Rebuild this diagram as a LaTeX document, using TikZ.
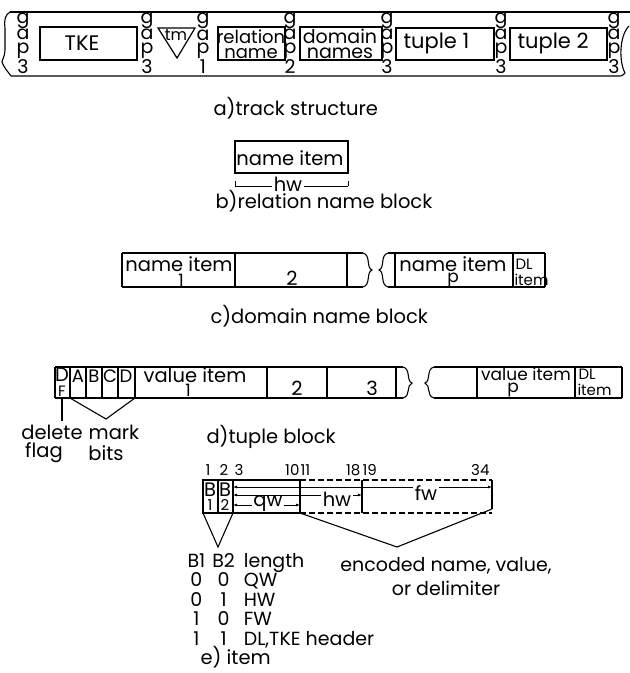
\documentclass[tikz,border=0pt]{standalone}
\usepackage{fontspec}
\setmainfont{Poppins}
\usetikzlibrary{arrows.meta}
\begin{document}
\begin{tikzpicture}[x=1pt,y=-1pt,line width=1.1pt,
  txt/.style={font=\fontsize{19.5}{16}\selectfont,inner sep=0pt},
  captxt/.style={font=\fontsize{19.5}{16}\selectfont,inner sep=0pt,anchor=west},
  sm/.style={font=\fontsize{15}{12}\selectfont,inner sep=0pt},
  gapst/.style={font=\fontsize{19}{13.5}\selectfont,align=center,inner sep=0pt},
  box/.style={draw,line width=1.2pt,inner sep=0pt},
  dim/.style={line width=0.9pt,{Latex[length=4pt,width=3pt]}-{Latex[length=4pt,width=3pt]}},
  dsh/.style={dashed,dash pattern=on 6pt off 3pt}]
\useasboundingbox (0,0) rectangle (630,673);

% ---------- a) track structure ----------
\coordinate (tl) at (10,12);
\coordinate (tr) at (630,12);
\coordinate (bl) at (11,76);
\coordinate (br) at (618,76);
\draw (tl) -- (tr);
\draw (bl) -- (br) .. controls (622,76) .. (625,73);
\draw (tl) .. controls (5,15) and (4,20) .. (5,28) -- (5,50) .. controls (5,56) and (2,60) .. (2,62) .. controls (3,66) and (8,72) .. (bl);
\draw (629,26) .. controls (619,36) and (619,62) .. (625,73);

\node[gapst] (g1) at (23,43) {g\\a\\p\\3};
\node[gapst] (g2) at (147,43) {g\\a\\p\\3};
\node[gapst] (g3) at (203,43) {g\\a\\p\\1};
\node[gapst] (g4) at (290,43) {g\\a\\p\\2};
\node[gapst] (g5) at (387,43) {g\\a\\p\\3};
\node[gapst] (g6) at (501,43) {g\\a\\p\\3};
\node[gapst] (g7) at (614,43) {g\\a\\p\\3};

\node[box,minimum width=97pt,minimum height=33pt] (tke) at (88.5,43.5) {};
\node[txt,font=\fontsize{21}{16}\selectfont] (tket) at (82,43) {TKE};
\draw[line width=1.2pt] (158,28) -- (195,28) -- (177,58) -- cycle;
\node[sm,font=\fontsize{16}{12}\selectfont] (tm) at (176,35) {tm};
\node[box,minimum width=67pt,minimum height=33pt] (rel) at (251.5,43.5) {};
\node[txt,align=center,font=\fontsize{18}{15.5}\selectfont] (relt) at (251,44) {relation\\name};
\node[box,minimum width=82pt,minimum height=33pt] (dom) at (341,43.5) {};
\node[txt,align=center,font=\fontsize{19}{15.5}\selectfont] (domt) at (340,44) {domain\\names};
\node[box,minimum width=98pt,minimum height=32pt] (tu1) at (445,44) {};
\node[txt,anchor=west,font=\fontsize{21}{16}\selectfont] (tu1t) at (403,43) {tuple 1};
\node[box,minimum width=97pt,minimum height=32pt] (tu2) at (558.5,44) {};
\node[txt,anchor=west,font=\fontsize{21}{16}\selectfont] (tu2t) at (517,43) {tuple 2};

\node[captxt] (capa) at (213,108) {a)track structure};

% ---------- b) relation name block ----------
\node[box,minimum width=113pt,minimum height=32pt] (ni) at (291.5,157) {};
\node[txt] (nit) at (290,158) {name item};
\coordinate (hwl) at (235,186);
\coordinate (hwr) at (348,186);
\draw[line width=0.9pt] (hwl) -- (hwr);
\draw[line width=0.9pt] (235,181) -- (hwl);
\draw[line width=0.9pt] (348,181) -- (hwr);
\node[txt,fill=white,inner xsep=2pt] (hwb) at (288,184) {hw};
\node[captxt] (capb) at (215,201) {b)relation name block};

% ---------- c) domain name block ----------
\draw (122,253) -- (363,253);
\draw (122,287) -- (363,287);
\draw (122,253) -- (122,287);
\draw (235,253) -- (235,287);
\draw (347,253) -- (347,287);
\draw (363,253) .. controls (371,255) and (366,268) .. (372,270) .. controls (366,272) and (371,285) .. (363,287);
\draw (388,253) .. controls (380,255) and (385,268) .. (379,270) .. controls (385,272) and (380,285) .. (388,287);
\draw (388,253) -- (545,253);
\draw (388,287) -- (545,287);
\draw (395,253) -- (395,287);
\draw (513,253) -- (513,287);
\draw (545,253) -- (545,287);
\node[txt] (c1) at (179,264) {name item};
\node[sm,font=\fontsize{17}{12}\selectfont] (c1s) at (181,280) {1};
\node[txt] (c2) at (292,278) {2};
\node[txt] (cp) at (453,264) {name item};
\node[sm,font=\fontsize{17}{12}\selectfont] (cps) at (453,280) {p};
\node[sm,anchor=west] (cdl) at (515,264) {DL};
\node[sm,anchor=west] (cdi) at (514,280) {item};
\node[captxt] (capc) at (210,316) {c)domain name block};

% ---------- d) tuple block ----------
\draw (55,367) -- (403,367);
\draw (55,398) -- (403,398);
\foreach \xx in {55,70,86,102,118,135,267,327,396} \draw (\xx,367) -- (\xx,398);
\draw (403,367) .. controls (411,369) and (406,381) .. (412,383) .. controls (406,385) and (411,396) .. (403,398);
\draw (434,367) .. controls (426,369) and (431,381) .. (425,383) .. controls (431,385) and (426,396) .. (434,398);
\draw (434,367) -- (622,367);
\draw (434,398) -- (622,398);
\foreach \xx in {477,575,622} \draw (\xx,367) -- (\xx,398);
\node[txt] (dD) at (62,375) {D};
\node[sm] (dF) at (62,391) {F};
\node[txt,font=\fontsize{18}{16}\selectfont] (dA) at (78,376) {A};
\node[txt,font=\fontsize{18}{16}\selectfont] (dB) at (94,376) {B};
\node[txt,font=\fontsize{18}{16}\selectfont] (dC) at (110,376) {C};
\node[txt,font=\fontsize{18}{16}\selectfont] (dDD) at (126,376) {D};
\node[txt] (dv1) at (195,375) {value item};
\node[sm,font=\fontsize{17}{12}\selectfont] (dv1s) at (188,390) {1};
\node[txt] (d2) at (297,388) {2};
\node[txt] (d3) at (372,388) {3};
\node[txt,font=\fontsize{17}{16}\selectfont] (dvp) at (526,374) {value item};
\node[sm,font=\fontsize{17}{12}\selectfont] (dvps) at (513,390) {p};
\node[sm,anchor=west] (ddl) at (578,374) {DL};
\node[sm,anchor=west] (ddi) at (577,390) {item};
\coordinate (dfb) at (62,398);
\node[txt] (del) at (52,432) {delete};
\node[txt] (flag) at (44,453) {flag};
\draw (dfb) -- (62,421);
\coordinate (mva) at (70,398);
\coordinate (mvb) at (135,398);
\coordinate (mvx) at (106,419);
\draw (mva) -- (mvx) -- (mvb);
\node[txt] (mark) at (114,432) {mark};
\node[txt] (bits) at (106,453) {bits};
\node[captxt] (capd) at (206,437) {d)tuple block};

% ---------- e) item ----------
\node[sm] (n1) at (208,470) {1};
\node[sm] (n2) at (224,470) {2};
\node[sm] (n3) at (239,470) {3};
\node[sm,anchor=east] (n10) at (300,470) {10};
\node[sm,anchor=west] (n11) at (300,470) {11};
\node[sm,anchor=east] (n18) at (361,470) {18};
\node[sm,anchor=west] (n19) at (362,470) {19};
\node[sm,anchor=east] (n34) at (490,470) {34};
\draw (203,480) rectangle (300,513);
\draw (218,480) -- (218,513);
\draw (233,480) -- (233,513);
\draw (362,480) -- (362,513);
\draw (492,480) -- (492,509);
\draw[dsh] (300,480) -- (492,480);
\draw[dsh] (300,513) -- (492,513);
\node[txt] (eb1) at (210,490) {B};
\node[sm] (e11) at (210,505) {1};
\node[txt] (eb2) at (225,490) {B};
\node[sm] (e22) at (225,505) {2};
\coordinate (fwl) at (233,487);
\coordinate (fwr) at (492,487);
\coordinate (hwl2) at (233,495);
\coordinate (hwr2) at (362,495);
\coordinate (qwl) at (233,505);
\coordinate (qwr) at (300,505);
\draw[dim] (fwl) -- (fwr);
\draw[dim] (hwl2) -- (hwr2);
\draw[dim] (qwl) -- (qwr);
\node[txt,fill=white,inner xsep=2pt,inner ysep=1pt] (efw) at (426,493) {fw};
\node[txt,fill=white,inner xsep=2pt,inner ysep=0.5pt] (ehw) at (337,499) {hw};
\node[txt,fill=white,inner xsep=1pt,inner ysep=0pt] (eqw) at (268,504) {qw};
\coordinate (v1a) at (203,513);
\coordinate (v1b) at (233,513);
\coordinate (v1x) at (218,547);
\draw (v1a) -- (v1x) -- (v1b);
\coordinate (v2a) at (300,513);
\coordinate (v2b) at (492,509);
\coordinate (v2x) at (397,547);
\draw (v2a) -- (v2x) -- (v2b);
\node[txt,anchor=north west,font=\fontsize{19}{18.5}\selectfont] (tab) at (187,553) {%
\renewcommand{\arraystretch}{0.97}%
\begin{tabular}{@{}c@{\hspace{7pt}}c@{\hspace{9pt}}l@{}}
B1 & B2 & length\\
0 & 0 & QW\\
0 & 1 & HW\\
1 & 0 & FW\\
1 & 1 & DL,TKE header
\end{tabular}};
\node[txt,font=\fontsize{19}{16}\selectfont] (enc1) at (446,566) {encoded name, value,};
\node[txt,font=\fontsize{19}{16}\selectfont] (enc2) at (446,588) {or delimiter};
\node[txt,anchor=west] (cape) at (200,657) {e) item};
\end{tikzpicture}
\end{document}
